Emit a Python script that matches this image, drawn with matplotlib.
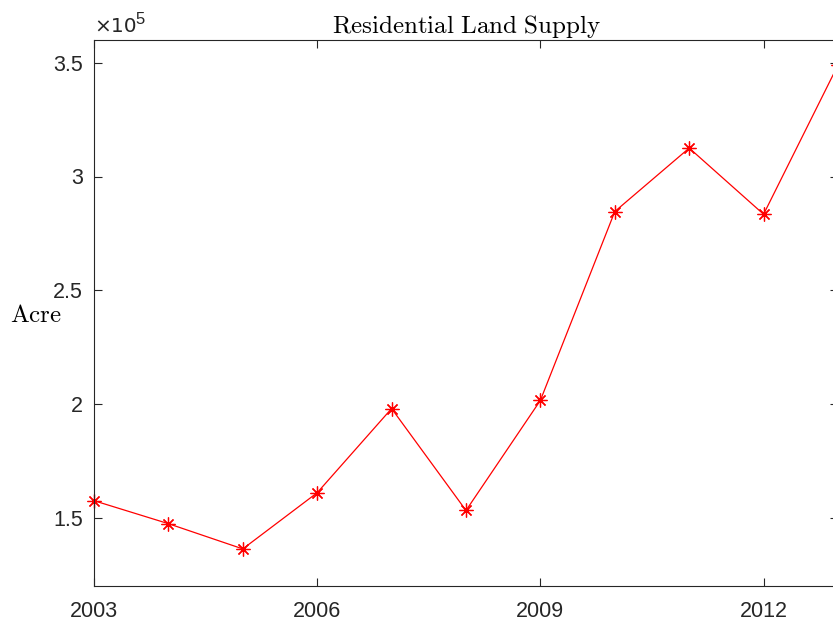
import numpy as np
import matplotlib.pyplot as plt
from matplotlib.ticker import FuncFormatter

years = [2003, 2004, 2005, 2006, 2007, 2008, 2009, 2010, 2011, 2012, 2013]
supply = [1.575e5, 1.474e5, 1.363e5, 1.61e5, 1.98e5, 1.532e5, 2.016e5,
          2.846e5, 3.125e5, 2.834e5, 3.49e5]
xticks = [2003, 2006, 2009, 2012]
yticks = [1.5e5, 2.0e5, 2.5e5, 3.0e5, 3.5e5]

plt.rcParams['mathtext.fontset'] = 'cm'
plt.rcParams['font.family'] = ['Liberation Sans', 'DejaVu Sans']

fig = plt.figure(figsize=(8.33, 6.27), dpi=100)
ax = fig.add_axes([94/833, 41/627, 744/833, 546/627])

ax.plot(years, supply, color='red', lw=0.9, marker=(8, 2, 0),
        markersize=10, markeredgewidth=0.9, clip_on=False)

ax.set_xlim(2003, 2013)
ax.set_ylim(1.2e5, 3.6e5)
ax.set_xticks(xticks)
ax.set_yticks(yticks)
ax.yaxis.set_major_formatter(FuncFormatter(lambda v, p: '%g' % (v / 1e5)))

gray = '#262626'
for s in ax.spines.values():
    s.set_color(gray)
    s.set_linewidth(0.8)
ax.tick_params(direction='in', length=6, width=0.8, color=gray,
               labelcolor=gray, labelsize=15.5, top=True, right=True)
ax.tick_params(axis='x', pad=11)
ax.tick_params(axis='y', pad=8)

# MATLAB-style exponent label above the y axis
ax.text(0, 1.008, '\u00d710', transform=ax.transAxes,
        fontsize=14.5, color=gray, ha='left', va='bottom',
        family=['DejaVu Sans'])
ax.annotate('5', xy=(0, 1.008), xycoords='axes fraction',
            xytext=(29.5, 6), textcoords='offset points',
            fontsize=12, color=gray, ha='left', va='bottom')

ax.set_title(r'$\mathrm{Residential\ Land\ Supply}$', fontsize=18, pad=5)
ax.set_ylabel(r'$\mathrm{Acre}$', fontsize=18, rotation=0, ha='right',
              va='center')
ax.yaxis.set_label_coords(-0.043, 0.497)

fig.savefig('out.png', dpi=100)
